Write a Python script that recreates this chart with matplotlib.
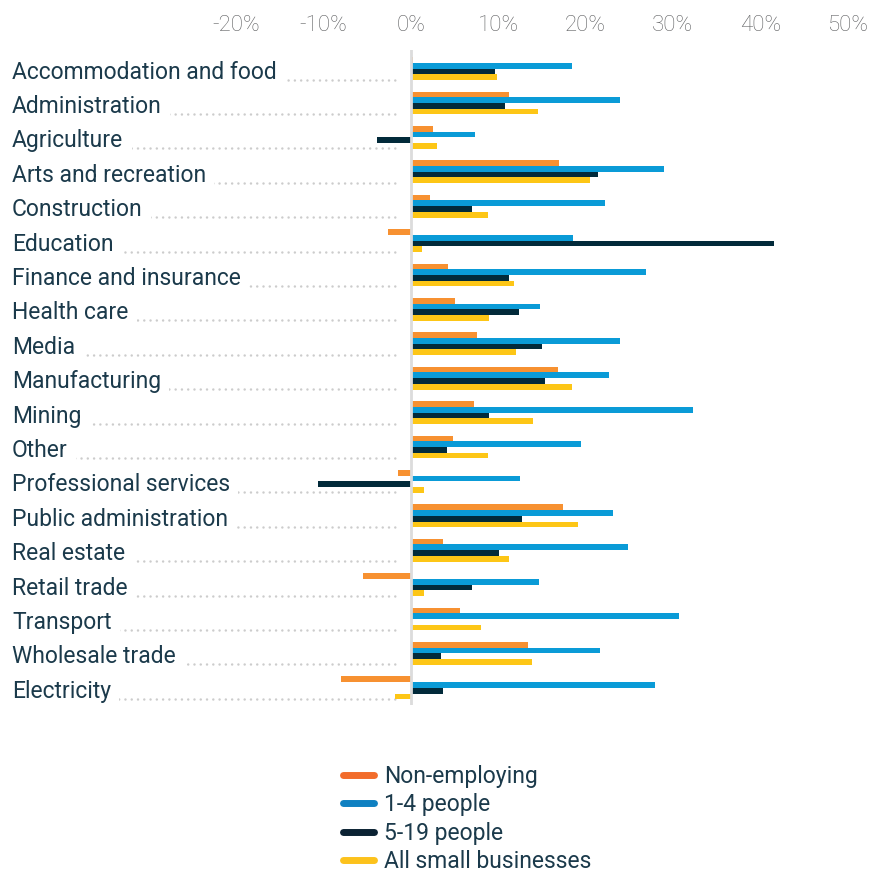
import matplotlib
matplotlib.use("Agg")
from matplotlib import pyplot as plt
from matplotlib.lines import Line2D
import numpy as np

plt.rcParams['font.family'] = ['Roboto', 'DejaVu Sans']
plt.rcParams['axes.unicode_minus'] = False

categories = ["Accommodation and food", "Administration", "Agriculture", "Arts and recreation",
              "Construction", "Education", "Finance and insurance", "Health care", "Media",
              "Manufacturing", "Mining", "Other", "Professional services", "Public administration",
              "Real estate", "Retail trade", "Transport", "Wholesale trade", "Electricity"]

non_employing = [0.3, 11.3, 2.6, 17.0, 2.2, -2.6, 4.3, 5.1, 7.6, 16.9, 7.3, 4.8, -1.5, 17.4, 3.7, -5.4, 5.6, 13.4, -8.0]
people_1_4 = [18.4, 23.9, 7.4, 29.0, 22.2, 18.6, 26.9, 14.8, 23.9, 22.7, 32.3, 19.5, 12.5, 23.2, 24.9, 14.7, 30.7, 21.7, 28.0]
people_5_19 = [9.6, 10.8, -3.8, 21.4, 7.0, 41.6, 11.2, 12.4, 15.0, 15.4, 9.0, 4.2, -10.6, 12.7, 10.1, 7.0, 0.15, 3.5, 3.7]
all_small = [9.9, 14.6, 3.0, 20.5, 8.8, 1.3, 11.8, 9.0, 12.0, 18.4, 14.0, 8.9, 1.5, 19.1, 11.3, 1.5, 8.1, 13.9, -1.8]

series_names = ["Non-employing", "1-4 people", "5-19 people", "All small businesses"]
bar_colors = ["#f79131", "#0a9bd7", "#022a3a", "#fdc616"]
legend_colors = ["#f26c2b", "#0f80c1", "#0b2233", "#fcc21c"]

tick_values = [-20, -10, 0, 10, 20, 30, 40, 50]
tick_labels = ["-20%", "-10%", "0%", "10%", "20%", "30%", "40%", "50%"]

label_color = "#1b3a4b"

fig = plt.figure(figsize=(8.72, 8.77), dpi=100)
ax = fig.add_axes([12 / 872, 1 - 705 / 877, 848 / 872, 655 / 877])

y = np.arange(len(categories))
bar_h = 0.166
all_series = [non_employing, people_1_4, people_5_19, all_small]
for i, (vals, col) in enumerate(zip(all_series, bar_colors)):
    ax.barh(y + (i - 1.5) * bar_h, vals, height=bar_h, color=col, zorder=2)

ax.axvline(0, color="#dcdcdc", lw=2, zorder=3)

# labels with dotted leader lines
for yi, name in zip(y, categories):
    ax.plot([-45.6, -1.45], [yi + 0.32, yi + 0.32], color="#cccccc", lw=1.8,
            linestyle=(0, (0.01, 2.5)), dash_capstyle='round', zorder=1)
    ax.text(0, yi + 0.1, name, transform=ax.get_yaxis_transform(), ha='left', va='center',
            fontsize=16.5, color=label_color, zorder=4,
            bbox=dict(facecolor='white', edgecolor='none', pad=6))

ax.set_xlim(-45.6, 51.4)
ax.set_ylim(18.5, -0.54)
ax.xaxis.tick_top()
ax.set_xticks(tick_values)
ax.set_xticklabels(tick_labels, fontsize=16, color="#5f6062", fontweight='light')
ax.tick_params(axis='x', length=0, pad=10)
ax.set_yticks([])
for s in ax.spines.values():
    s.set_visible(False)

handles = [Line2D([0], [0], color=c, lw=5, solid_capstyle='round') for c in legend_colors]
leg = fig.legend(handles, series_names, loc='upper left', bbox_to_anchor=(343 / 872, 1 - 765 / 877),
                 frameon=False, fontsize=16.5, labelspacing=0.24, handlelength=1.35,
                 handletextpad=0.45, borderpad=0, borderaxespad=0)
for t in leg.get_texts():
    t.set_color(label_color)

plt.savefig("out.png", dpi=100)
plt.close()
